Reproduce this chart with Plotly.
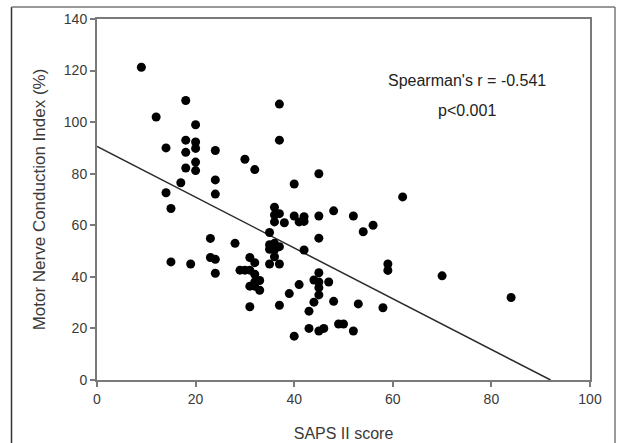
import plotly.graph_objects as go

# SAPS II score (x) vs Motor Nerve Conduction Index % (y)
saps = [9, 12, 14, 14, 15, 15, 17, 18, 18, 18, 18, 19,
        20, 20, 20, 20, 20, 24, 24, 24, 23, 23, 24, 24,
        28, 29, 30, 30, 32, 31, 32, 31, 32, 33, 32, 31, 32, 33, 31,
        36, 36, 37, 36, 38, 35, 35, 36, 36, 35, 37, 35, 37, 36,
        37, 37, 37, 39, 40, 40, 41, 42, 42, 42, 41, 40,
        43, 43, 45, 46, 44, 45, 45, 47, 45, 45, 44, 48,
        45, 45, 45, 48, 52, 54, 56, 59, 59, 62, 70, 84,
        49, 50, 52, 53, 58]
mnci = [121.3, 102.0, 90.0, 72.6, 66.5, 45.8, 76.5, 108.4, 93.0, 88.3, 82.2, 45.0,
        99.0, 92.3, 89.8, 84.5, 81.2, 89.0, 77.6, 72.1, 54.9, 47.5, 46.8, 41.4,
        53.0, 42.6, 42.6, 85.6, 81.6, 47.5, 45.5, 42.6, 41.0, 38.6, 38.0, 36.4, 36.4, 34.8, 28.4,
        67.0, 64.0, 64.5, 61.3, 61.0, 57.2, 52.5, 53.0, 50.5, 50.7, 51.7, 45.0, 45.0, 47.8,
        107.0, 93.0, 29.0, 33.5, 76.0, 63.6, 61.3, 63.3, 61.5, 50.4, 37.0, 17.0,
        26.7, 20.0, 19.0, 20.0, 38.8, 41.6, 38.0, 38.0, 35.8, 33.0, 30.2, 30.5,
        55.0, 63.6, 80.0, 65.6, 63.6, 57.5, 60.0, 45.0, 42.5, 71.0, 40.4, 32.0,
        21.7, 21.7, 19.0, 29.5, 28.0]

# regression line end points
line_x = [0, 92]
line_y = [90.6, 0]

x_ticks = [0, 20, 40, 60, 80, 100]
y_ticks = [0, 20, 40, 60, 80, 100, 120, 140]

font_family = "Liberation Sans, Arial, sans-serif"
text_col = "#3a3a3a"
axis_col = "#7a7a7a"

W, H = 618, 443
L, R, T, B = 97, 28, 19, 63
pw, ph = W - L - R, H - T - B

def px(xp):
    return (xp - L) / pw

def py(yp):
    return (H - B - yp) / ph

fig = go.Figure()
fig.add_trace(go.Scatter(x=line_x, y=line_y, mode="lines",
                         line=dict(color="#2a2a2a", width=1.5),
                         hoverinfo="skip", showlegend=False))
fig.add_trace(go.Scatter(x=saps, y=mnci, mode="markers",
                         marker=dict(color="black", size=9),
                         showlegend=False))

fig.update_layout(
    width=W, height=H,
    margin=dict(l=L, r=R, t=T, b=B),
    paper_bgcolor="white", plot_bgcolor="white",
    font=dict(family=font_family, color=text_col, size=14),
    xaxis=dict(range=[0, 100], tickvals=x_ticks, showgrid=False, zeroline=False,
               showline=True, linecolor=axis_col, linewidth=2, mirror=True,
               ticks="outside", ticklen=5, tickwidth=1.5, tickcolor=axis_col,
               tickfont=dict(size=14, color=text_col), automargin=False,
               title=dict(text="SAPS II score", font=dict(size=16, color=text_col), standoff=22)),
    yaxis=dict(range=[0, 140], tickvals=y_ticks, showgrid=False, zeroline=False,
               showline=True, linecolor=axis_col, linewidth=2, mirror=True,
               ticks="outside", ticklen=5, tickwidth=1.5, tickcolor=axis_col,
               tickfont=dict(size=14, color=text_col), automargin=False,
               title=dict(text="Motor Nerve Conduction Index (%)", font=dict(size=17, color=text_col), standoff=14)),
    annotations=[
        dict(text="Spearman's r = -0.541", x=75, y=116.3, xref="x", yref="y",
             showarrow=False, font=dict(size=16, color="#222")),
        dict(text="p<0.001", x=75, y=104.7, xref="x", yref="y",
             showarrow=False, font=dict(size=16, color="#222")),
    ],
    shapes=[
        dict(type="line", xref="paper", yref="paper", layer="above",
             x0=px(11.5), x1=px(11.5), y0=py(445), y1=py(7),
             line=dict(color="#333", width=1.5)),
        dict(type="line", xref="paper", yref="paper", layer="above",
             x0=px(11.5), x1=px(615), y0=py(7), y1=py(7),
             line=dict(color="#777", width=1.5)),
        dict(type="line", xref="paper", yref="paper", layer="above",
             x0=px(615), x1=px(615), y0=py(445), y1=py(7),
             line=dict(color="#777", width=1.5)),
    ],
)

fig.write_html("out.html", config={"displayModeBar": False},
               post_script="document.body.style.margin='0px';document.body.style.overflow='hidden';")
